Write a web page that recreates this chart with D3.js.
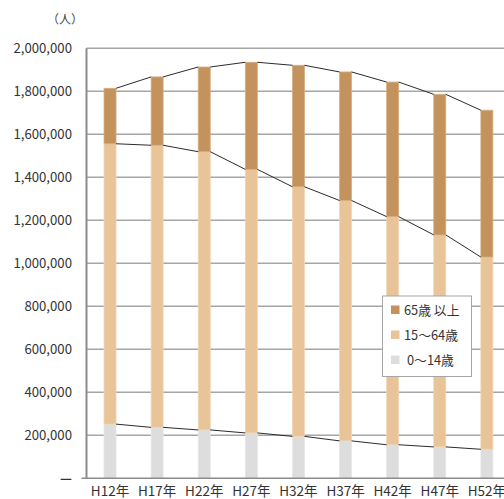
<!DOCTYPE html>
<html>
<head>
<meta charset="utf-8">
<script src="https://cdn.jsdelivr.net/npm/d3@7"></script>
<style>
  html, body { margin: 0; padding: 0; background: #fff; }
  svg { display: block; font-family: "Noto Sans CJK JP", "Noto Sans", sans-serif; }
</style>
</head>
<body>
<svg id="chart" width="504" height="499"></svg>
<script>
// 年次区分
const categories = ["H12年", "H17年", "H22年", "H27年", "H32年", "H37年", "H42年", "H47年", "H52年"];
// 年齢3区分別人口（人）
const age0to14  = [252000, 237000, 225000, 211000, 195000, 174000, 156000, 146000, 135000];
const age15to64 = [1304000, 1312000, 1294000, 1226000, 1161000, 1118000, 1061000, 986000, 894000];
const age65plus = [258000, 318000, 394000, 498000, 565000, 598000, 626000, 654000, 683000];
// 凡例・目盛
const seriesNames = ["0～14歳", "15～64歳", "65歳 以上"];
const yTicks = [0, 200000, 400000, 600000, 800000, 1000000, 1200000, 1400000, 1600000, 1800000, 2000000];

const colors = ["#dcdddc", "#e8c498", "#c4925d"];
const edgeColors = ["#e6e7e6", "#f0d6b6", "#d6ad82"];

const svg = d3.select("#chart");
const plotLeft = 86.5, plotRight = 510.4, plotTop = 48.3, plotBottom = 478.3;

const x = d3.scaleBand().domain(categories).range([plotLeft, plotRight]).paddingInner(0.745).paddingOuter(0.372);
const y = d3.scaleLinear().domain([0, 2000000]).range([plotBottom, plotTop]);

// grid
svg.append("g").selectAll("line").data(yTicks.filter(d => d > 0)).join("line")
  .attr("x1", plotLeft).attr("x2", 504)
  .attr("y1", d => y(d)).attr("y2", d => y(d))
  .attr("stroke", "#a6a6a6").attr("stroke-width", 1.4);

// stacked data
const rows = categories.map((c, i) => ({ cat: c, a: age0to14[i], b: age15to64[i], c: age65plus[i] }));
const stack = d3.stack().keys(["a", "b", "c"]);
const layers = stack(rows);

const bw = x.bandwidth();
layers.forEach((layer, k) => {
  svg.append("g").selectAll("rect").data(layer).join("rect")
    .attr("x", d => x(d.data.cat))
    .attr("y", d => y(d[1]))
    .attr("width", bw)
    .attr("height", d => y(d[0]) - y(d[1]))
    .attr("fill", colors[k])
    .attr("stroke", edgeColors[k])
    .attr("stroke-width", 0.8);
});

// connector lines between bar segment tops
layers.forEach(layer => {
  for (let i = 0; i < layer.length - 1; i++) {
    svg.append("line")
      .attr("x1", x(layer[i].data.cat) + bw)
      .attr("y1", y(layer[i][1]))
      .attr("x2", x(layer[i + 1].data.cat))
      .attr("y2", y(layer[i + 1][1]))
      .attr("stroke", "#2b2b2b").attr("stroke-width", 1);
  }
});

// y axis line
svg.append("line").attr("x1", plotLeft).attr("x2", plotLeft).attr("y1", plotTop).attr("y2", plotBottom)
  .attr("stroke", "#8c8c8c").attr("stroke-width", 2);
svg.append("line").attr("x1", plotLeft - 5).attr("x2", 504).attr("y1", plotBottom).attr("y2", plotBottom)
  .attr("stroke", "#8c8c8c").attr("stroke-width", 1.4);

// y tick labels
const fmt = d3.format(",");
svg.append("g").selectAll("text").data(yTicks).join("text")
  .attr("x", 72).attr("y", d => y(d))
  .attr("dy", "0.35em")
  .attr("text-anchor", "end")
  .attr("font-size", 13.2)
  .attr("font-weight", d => d === 0 ? "bold" : "normal")
  .attr("fill", "#333")
  .text(d => d === 0 ? "—" : fmt(d));

// unit
svg.append("text").attr("x", 65).attr("y", 24).attr("text-anchor", "middle")
  .attr("font-size", 12).attr("fill", "#444").text("（人）");

// x labels
svg.append("g").selectAll("text").data(categories).join("text")
  .attr("x", d => x(d) + bw / 2).attr("y", 496)
  .attr("text-anchor", "middle")
  .attr("font-size", 13.5).attr("fill", "#333")
  .text(d => d);

// legend
const lg = svg.append("g");
lg.append("rect").attr("x", 382.5).attr("y", 296).attr("width", 89).attr("height", 80.5)
  .attr("fill", "#fff").attr("stroke", "#a6a6a6").attr("stroke-width", 1);
const legendItems = [2, 1, 0];
legendItems.forEach((k, j) => {
  const cy = 310 + j * 25;
  lg.append("rect").attr("x", 391).attr("y", cy - 4.5).attr("width", 8.5).attr("height", 8.5).attr("fill", colors[k]);
  lg.append("text").attr("x", k === 0 ? 407 : 404).attr("y", cy).attr("dy", "0.36em")
    .attr("font-size", 12.8).attr("fill", "#333").text(seriesNames[k]);
});
</script>
</body>
</html>
